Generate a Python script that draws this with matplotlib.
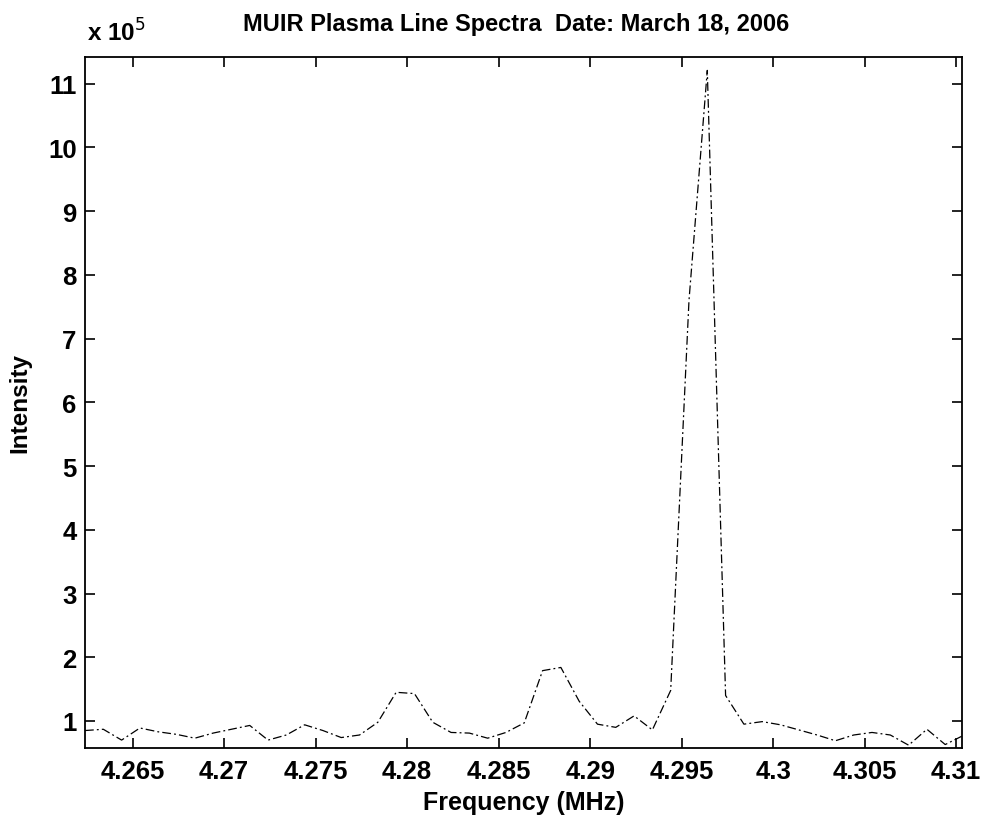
import matplotlib.pyplot as plt

# MUIR plasma line spectrum, intensity in units of 1e5
freq_mhz = [4.2624, 4.2634, 4.2644, 4.2654, 4.2664, 4.2674, 4.2684, 4.2694,
            4.2704, 4.2714, 4.2724, 4.2734, 4.2744, 4.2754, 4.2764, 4.2774,
            4.2784, 4.2794, 4.2804, 4.2814, 4.2824, 4.2834, 4.2844, 4.2854,
            4.2864, 4.2874, 4.2884, 4.2894, 4.2904, 4.2914, 4.2924, 4.2934,
            4.2944, 4.2954, 4.2964, 4.2974, 4.2984, 4.2994, 4.3004, 4.3014,
            4.3024, 4.3034, 4.3044, 4.3054, 4.3064, 4.3074, 4.3084, 4.3094,
            4.3103]
intensity_e5 = [0.85, 0.87, 0.70, 0.89, 0.83, 0.79, 0.73, 0.81,
                0.87, 0.93, 0.70, 0.78, 0.94, 0.85, 0.74, 0.78,
                0.98, 1.45, 1.43, 0.98, 0.82, 0.81, 0.73, 0.82,
                0.97, 1.79, 1.84, 1.31, 0.95, 0.90, 1.08, 0.86,
                1.48, 7.60, 11.21, 1.40, 0.95, 0.99, 0.94, 0.86,
                0.78, 0.69, 0.78, 0.82, 0.78, 0.62, 0.87, 0.63,
                0.76]
xticks = [4.265, 4.27, 4.275, 4.28, 4.285, 4.29, 4.295, 4.3, 4.305, 4.31]
xticklabels = ['4.265', '4.27', '4.275', '4.28', '4.285', '4.29', '4.295', '4.3', '4.305', '4.31']
yticks = [1, 2, 3, 4, 5, 6, 7, 8, 9, 10, 11]

plt.rcParams['font.family'] = ['Liberation Sans', 'DejaVu Sans']

fig = plt.figure(figsize=(9.82, 8.2), dpi=100)
ax = fig.add_axes([85 / 982, 71 / 820, (961.7 - 85) / 982, (749 - 58) / 820])

ax.plot(freq_mhz, intensity_e5, color='black', linewidth=0.9,
        linestyle=(0, (7, 2.5, 1.5, 2.5)))

ax.set_xlim(freq_mhz[0], freq_mhz[-1])
ax.set_ylim(0.576, 11.42)
ax.set_xticks(xticks)
ax.set_xticklabels(xticklabels)
ax.set_yticks(yticks)
ax.tick_params(direction='in', length=7, width=1.2, top=True, right=True,
               labelsize=18.5)
ax.tick_params(axis='x', pad=8)
ax.tick_params(axis='y', pad=6)
for lbl in ax.get_xticklabels() + ax.get_yticklabels():
    lbl.set_fontweight('bold')
for sp in ax.spines.values():
    sp.set_linewidth(1.3)

ax.set_xlabel('Frequency (MHz)', fontsize=18, fontweight='bold', labelpad=5)
ax.set_ylabel('Intensity', fontsize=17.5, fontweight='bold', labelpad=12)

fig.text(516 / 982, 1 - 24 / 820, 'MUIR Plasma Line Spectra  Date: March 18, 2006',
         ha='center', va='center', fontsize=17, fontweight='bold')
fig.text(87 / 982, 1 - 42 / 820, 'x 10$^{5}$', ha='left', va='baseline',
         fontsize=17.5, fontweight='bold')

plt.savefig('out.png', dpi=100)
